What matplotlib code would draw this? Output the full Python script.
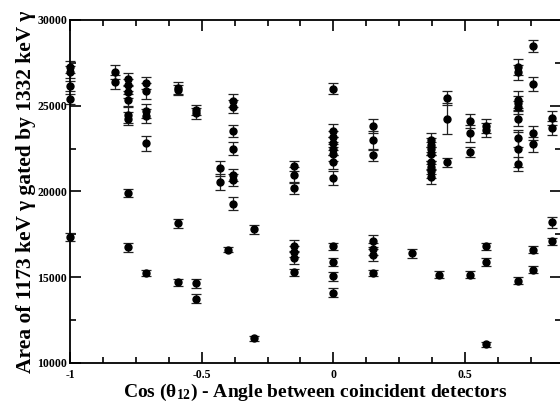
import matplotlib.pyplot as plt
from matplotlib.ticker import MultipleLocator

# cos(theta_12) of each detector pair, fitted peak area and its error
cos_theta = [
    -1.00, -1.00, -1.00, -1.00, -1.00,
    -0.83, -0.83,
    -0.78, -0.78, -0.78, -0.78, -0.78, -0.78, -0.78, -0.78,
    -0.71, -0.71, -0.71, -0.71, -0.71, -0.71,
    -0.59, -0.59, -0.59, -0.59,
    -0.52, -0.52, -0.52, -0.52,
    -0.43, -0.43,
    -0.40,
    -0.38, -0.38, -0.38, -0.38, -0.38, -0.38, -0.38,
    -0.30, -0.30,
    -0.15, -0.15, -0.15, -0.15, -0.15, -0.15, -0.15,
    0.00, 0.00, 0.00, 0.00, 0.00, 0.00, 0.00, 0.00, 0.00, 0.00, 0.00, 0.00,
    0.15, 0.15, 0.15, 0.15, 0.15, 0.15, 0.15,
    0.30,
    0.37, 0.37, 0.37, 0.37, 0.37, 0.37, 0.37, 0.37,
    0.40,
    0.43, 0.43, 0.43,
    0.52, 0.52, 0.52, 0.52,
    0.58, 0.58, 0.58, 0.58, 0.58,
    0.70, 0.70, 0.70, 0.70, 0.70, 0.70, 0.70, 0.70, 0.70, 0.70,
    0.76, 0.76, 0.76, 0.76, 0.76, 0.76,
    0.83, 0.83, 0.83, 0.83,
]
area = [
    27250, 26950, 26150, 25400, 17350,
    26950, 26400,
    26550, 26200, 25800, 25350, 24450, 24250, 19900, 16750,
    26300, 25850, 24700, 24400, 22800, 15250,
    26050, 25900, 18150, 14700,
    24750, 24550, 14650, 13750,
    21350, 20550,
    16600,
    25300, 24950, 23550, 22500, 20950, 20650, 19300,
    17800, 11450,
    21500, 20950, 20200, 16850, 16500, 16150, 15300,
    26000, 23550, 23150, 22800, 22500, 22200, 21700, 20800, 16800, 15900, 15050, 14100,
    23800, 23000, 22100, 17100, 16650, 16300, 15250,
    16400,
    23000, 22700, 22500, 22200, 21700, 21400, 21200, 20850,
    15150,
    25450, 24250, 21700,
    24100, 23400, 22300, 15150,
    23800, 23600, 16800, 15900, 11100,
    27250, 26950, 25350, 25150, 24900, 24250, 23100, 22450, 21600, 14800,
    28500, 26250, 23400, 22750, 16600, 15450,
    24300, 23700, 18200, 17100,
]
area_err = [
    350, 350, 300, 300, 250,
    400, 400,
    350, 350, 350, 350, 450, 400, 250, 250,
    350, 450, 400, 400, 450, 200,
    350, 300, 250, 200,
    300, 300, 250, 250,
    450, 450,
    150,
    400, 400, 350, 400, 350, 350, 350,
    250, 150,
    300, 450, 350, 300, 300, 350, 200,
    300, 400, 400, 400, 400, 400, 400, 400, 200, 250, 250, 250,
    400, 500, 300, 350, 350, 350, 200,
    250,
    400, 400, 400, 400, 400, 400, 400, 400,
    200,
    400, 900, 250,
    400, 500, 300, 200,
    400, 400, 200, 250, 150,
    450, 450, 500, 400, 400, 450, 500, 1000, 400, 200,
    350, 400, 400, 450, 200, 200,
    400, 400, 300, 200,
]

plt.rcParams['font.family'] = ['Liberation Serif', 'DejaVu Serif']
plt.rcParams['font.weight'] = 'bold'
plt.rcParams['mathtext.fontset'] = 'custom'
plt.rcParams['mathtext.rm'] = 'Liberation Serif:bold'
plt.rcParams['mathtext.bf'] = 'Liberation Serif:bold'
plt.rcParams['mathtext.it'] = 'Liberation Serif:bold'

fig = plt.figure(figsize=(5.6, 4.04), dpi=100)
ax = fig.add_axes([0.125, 0.1015, 0.877, 0.849])

ax.errorbar(cos_theta, area, yerr=area_err, fmt='o', color='black',
            ecolor='#222222', markersize=5, elinewidth=0.9, capsize=3.8,
            capthick=0.9, clip_on=False)

ax.set_xlim(-1, 0.865)
ax.set_ylim(10000, 30000)
ax.xaxis.set_major_locator(MultipleLocator(0.5))
ax.xaxis.set_minor_locator(MultipleLocator(0.125))
ax.yaxis.set_major_locator(MultipleLocator(5000))
ax.yaxis.set_minor_locator(MultipleLocator(2500))
ax.set_xticks([-1, -0.5, 0, 0.5])
ax.set_xticklabels(['-1', '-0.5', '0', '0.5'])

ax.tick_params(which='both', direction='in', top=True, right=True,
               labelsize=8.5, width=1.2)
ax.tick_params(axis='x', pad=4)
ax.tick_params(axis='y', pad=2)
ax.tick_params(which='major', length=8)
ax.tick_params(which='minor', length=4)
for s in ax.spines.values():
    s.set_linewidth(1.3)

ax.set_xlabel('Cos (θ$_{12}$) - Angle between coincident detectors',
              fontsize=14, fontweight='bold', labelpad=1)
ax.set_ylabel('Area of 1173 keV γ gated by 1332 keV γ',
              fontsize=15.5, fontweight='bold', labelpad=1)

fig.savefig('out.png', dpi=100)
